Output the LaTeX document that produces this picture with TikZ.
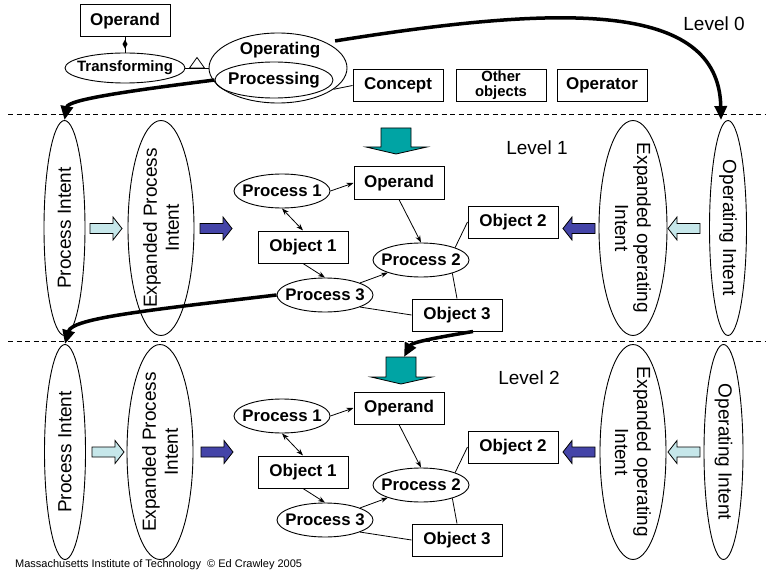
\documentclass[tikz,border=0pt]{standalone}
\usepackage{fontspec}
\setmainfont{Liberation Sans}
\usetikzlibrary{shapes.geometric,arrows.meta,calc}
\definecolor{paleflow}{RGB}{198,231,234}
\definecolor{deepflow}{RGB}{68,68,168}
\definecolor{tealflow}{RGB}{0,164,164}
% zero-width box so ellipse nodes keep their set size
\newcommand\zw[1]{\makebox[0pt]{#1}}
% block arrows: right-pointing (left end x, centre y, fill), left-pointing (tip x, centre y, fill)
\newcommand\blockR[3]{\draw[block, fill=#3] (#1,#2-5) -- ++(23,0) -- ++(0,-6.5) -- ++(9,11.5) -- ++(-9,11.5) -- ++(0,-6.5) -- ++(-23,0) -- cycle;}
\newcommand\blockL[3]{\draw[block, fill=#3] (#1,#2) -- ++(9,-11.5) -- ++(0,6.5) -- ++(23,0) -- ++(0,10) -- ++(-23,0) -- ++(0,6.5) -- cycle;}
% process/object cluster of one level (#1 name suffix, #2 vertical offset)
\newcommand\cluster[2]{%
  \node[proc] (p1#1) at (282,191+#2) {\zw{Process 1}};
  \node[box]  (opd#1) at (399,183+#2) {Operand};
  \node[box]  (ob1#1) at (303,247+#2) {Object 1};
  \node[proc] (p3#1) at (325,295+#2) {\zw{Process 3}};
  \node[proc] (p2#1) at (421,260+#2) {\zw{Process 2}};
  \node[box]  (ob2#1) at (513,222+#2) {Object 2};
  \node[box]  (ob3#1) at (457,315+#2) {Object 3};
  \draw[flow] (p1#1.east) -- (opd#1.west);
  \draw[flow2] (p1#1.south) -- (ob1#1.north);
  \draw[flow] (ob1#1.south) -- (p3#1.north);
  \draw[flow] (p3#1.19) -- (p2#1.201);
  \draw[flow] (opd#1.south) -- (p2#1.north);
  \draw[link] (p2#1.20) -- (ob2#1.west);
  \draw[link] (p2#1.-23) -- (ob3#1.north);
  \draw[link] (p3#1.-19) -- (ob3#1.west);
}
\begin{document}
\begin{tikzpicture}[x=1pt,y=-1pt,
  box/.style={draw, rectangle, minimum width=90pt, minimum height=32pt, inner sep=0pt, line width=1pt, font=\bfseries\fontsize{17}{19}\selectfont},
  proc/.style={draw, ellipse, minimum width=96pt, minimum height=34pt, inner sep=0pt, line width=0.9pt, font=\bfseries\fontsize{16.8}{19}\selectfont},
  intent/.style={draw, ellipse, inner sep=0pt, line width=0.9pt, minimum height=215pt},
  intenttext/.style={font=\fontsize{19}{22}\selectfont, align=center, inner sep=0pt},
  link/.style={line width=0.8pt},
  flow/.style={line width=0.8pt, -{Stealth[length=7pt,width=5pt]}},
  flow2/.style={line width=0.8pt, {Stealth[length=7pt,width=5pt]}-{Stealth[length=7pt,width=5pt]}},
  bigflow/.style={line width=3.5pt, -{Triangle[length=14pt,width=12pt]}},
  levellabel/.style={font=\fontsize{19}{22}\selectfont},
  sep/.style={dash pattern=on 5pt off 3.5pt, line width=0.7pt},
  block/.style={draw, line width=0.8pt}
]
\useasboundingbox (0,0) rectangle (766,575);

% ---------- level 0 ----------
\node[box] (operand0) at (125,21) {Operand};
\node[draw, ellipse, minimum width=120pt, minimum height=30pt, inner sep=0pt, line width=0.9pt,
      font=\bfseries\fontsize{15}{16}\selectfont] (transf) at (125,68) {\zw{Transforming}};
\node[draw, ellipse, minimum width=138pt, minimum height=70pt, inner sep=0pt, line width=0.9pt] (operating) at (278,68) {};
\node[font=\bfseries\fontsize{17}{19}\selectfont, inner sep=0pt] (operatingtxt) at (280,50) {Operating};
\node[draw, ellipse, minimum width=118pt, minimum height=36pt, inner sep=0pt, line width=0.9pt,
      font=\bfseries\fontsize{17}{19}\selectfont] (processing) at (274,80) {\zw{Processing}};
\node[box] (concept) at (398,85.5) {Concept};
\node[box, font=\bfseries\fontsize{14.8}{15}\selectfont, align=center] (others) at (501,85.5) {Other\\objects};
\node[box] (operator) at (602,85.5) {Operator};
\node[levellabel] (lv0) at (714,24) {Level 0};

% aggregation: operand -- transforming
\draw[link] (operand0.south) -- (transf.north) coordinate[pos=0.44] (dia);
\fill (dia) ++(0,-4.5) -- ++(2.5,4.5) -- ++(-2.5,4.5) -- ++(-2.5,-4.5) -- cycle;
% generalization: transforming -- operating
\draw[link] (transf.east) -- (operating.west) coordinate[midway] (gen);
\draw[link, fill=white] (gen) ++(-7.5,0) -- ++(7.5,-10.5) -- ++(7.5,10.5) -- cycle;
\draw[link] (operating.-21) -- (concept.west);

% level separators
\draw[sep] (8,114) -- (766,114);
\draw[sep] (8,341) -- (766,341);

% ---------- level 1 ----------
\node[intent, minimum width=41pt] (pi1) at (64.5,228) {};
\node[intenttext, rotate=90] (pi1t) at (pi1) {Process Intent};
\node[intent, minimum width=66pt] (epi1) at (161,228) {};
\node[intenttext, rotate=90] (epi1t) at (epi1) {Expanded Process\\Intent};
\node[intent, minimum width=68pt] (eoi1) at (633,228) {};
\node[intenttext, rotate=-90] (eoi1t) at (eoi1) {Expanded operating\\Intent};
\node[intent, minimum width=37pt] (oi1) at (728,228) {};
\node[intenttext, rotate=-90] (oi1t) at (oi1) {Operating Intent};
\node[levellabel] (lv1) at (537,148) {Level 1};

\blockR{90}{228.5}{paleflow}
\blockR{200}{228.5}{deepflow}
\blockL{563}{228.5}{deepflow}
\blockL{668}{228.5}{paleflow}
\draw[block, fill=tealflow] (381,128) -- (411,128) -- (411,147) -- (427,147) -- (396,154) -- (366,147) -- (381,147) -- cycle;

\cluster{A}{0}

% ---------- level 2 ----------
\node[intent, minimum width=41pt] (pi2) at (65,452) {};
\node[intenttext, rotate=90] (pi2t) at (pi2) {Process Intent};
\node[intent, minimum width=66pt] (epi2) at (160,452) {};
\node[intenttext, rotate=90] (epi2t) at (epi2) {Expanded Process\\Intent};
\node[intent, minimum width=66pt] (eoi2) at (633,452) {};
\node[intenttext, rotate=-90] (eoi2t) at (eoi2) {Expanded operating\\Intent};
\node[intent, minimum width=39pt] (oi2) at (723.5,452) {};
\node[intenttext, rotate=-90] (oi2t) at (oi2) {Operating Intent};
\node[levellabel] (lv2) at (529,378) {Level 2};

\blockR{92}{452}{paleflow}
\blockR{201}{452}{deepflow}
\blockL{563}{452}{deepflow}
\blockL{668}{452}{paleflow}
\draw[block, fill=tealflow] (386,357) -- (416,357) -- (416,377) -- (432,377) -- (401,384) -- (371,377) -- (386,377) -- cycle;
\coordinate (tealin) at (404,357);

\cluster{B}{225}

% ---------- refinement flows between levels ----------
\coordinate (opstart) at ([shift={(8,-2)}]operating.north east);
\draw[bigflow] (opstart) .. controls (560,5) and (719,0) .. ([xshift=-7]oi1.north);
\draw[bigflow] (processing.west) .. controls (120,92) and (68,100) .. (pi1.north);
\draw[bigflow] (p3A.west) .. controls (150,310) and (72,318) .. (pi2.north);
\draw[bigflow] ([xshift=16]ob3A.south) .. controls (440,337) and (412,342) .. (tealin);

\node[font=\fontsize{11}{13}\selectfont, anchor=west, inner sep=0pt] (credit) at (15,565)
  {Massachusetts Institute of Technology\ \ © Ed Crawley 2005};
\end{tikzpicture}
\end{document}
